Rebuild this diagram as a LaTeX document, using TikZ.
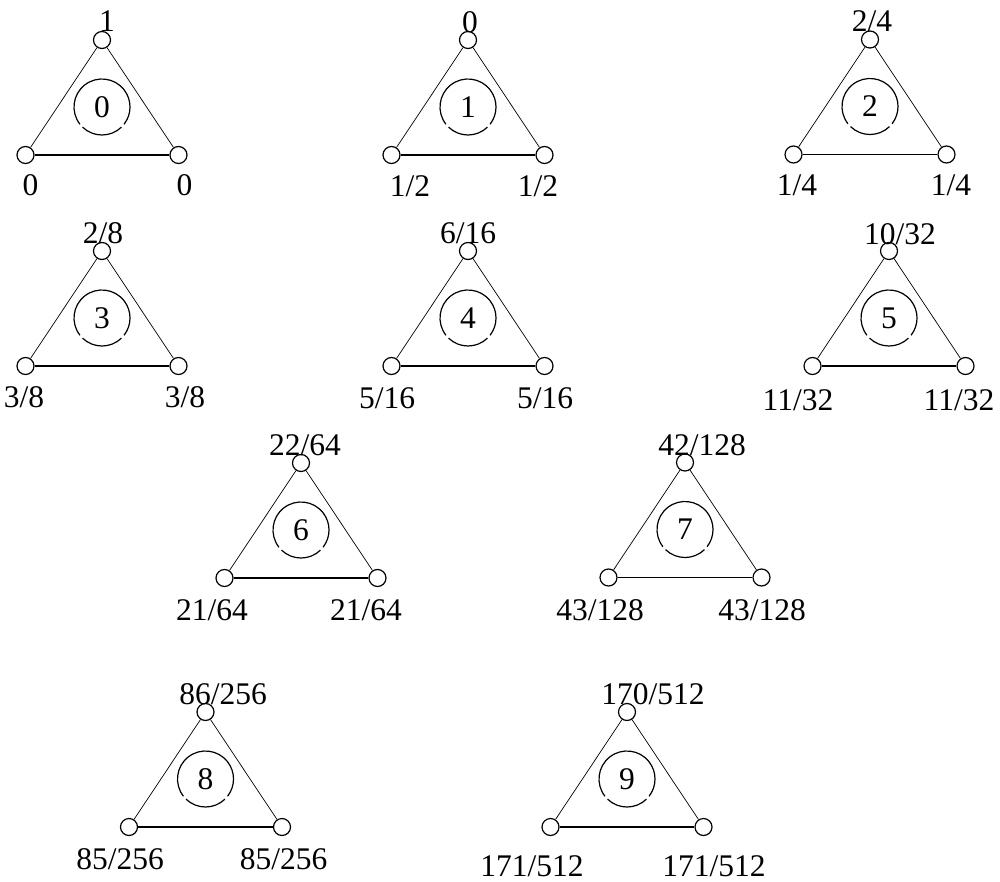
\documentclass[tikz,border=0pt]{standalone}
\usepackage{fontspec}
\setmainfont{Liberation Serif}
\begin{document}
\begin{tikzpicture}[x=1pt,y=-1pt,
  vtx/.style={circle,draw,line width=1.2pt,minimum size=17pt,inner sep=0pt,fill=white},
  side/.style={line width=0.7pt},
  base/.style={line width=1.4pt},
  ring/.style={line width=1.2pt},
  lbl/.style={anchor=base,inner sep=0pt,font=\fontsize{31.5}{36}\selectfont},
  num/.style={anchor=center,inner sep=0pt,font=\fontsize{31.5}{36}\selectfont}]
\useasboundingbox (0,0) rectangle (1000,882);
\foreach \cx/\ty/\n in {102/40/0,468/40/1,870/39.5/2,102/251/3,468/251/4,889/251/5,301/463/6,685/462.5/7,205.5/712/8,627/712/9}{
  \node[vtx] (t\n) at (\cx,\ty) {};
  \node[vtx] (l\n) at (\cx-76.5,\ty+115) {};
  \node[vtx] (r\n) at (\cx+76.5,\ty+115) {};
  \draw[side] (t\n) -- (l\n);
  \draw[side] (t\n) -- (r\n);
  \draw[base] (l\n) -- (r\n);
  \coordinate (c\n) at (\cx,\ty+67);
  \draw[ring] ([shift={(142:28)}]c\n) arc[start angle=142,end angle=398,radius=28];
  \draw[ring] ([shift={(46:28)}]c\n) arc[start angle=46,end angle=134,radius=28];
  \node[num] (n\n) at (c\n) {\n};
}
% labels: top, bottom-left, bottom-right
\node[lbl] (a0) at (107,32) {1};
\node[lbl] (b0) at (30.5,196) {0};
\node[lbl] (d0) at (184.5,196) {0};
\node[lbl] (a1) at (470,33) {0};
\node[lbl] (b1) at (410,197) {1/2};
\node[lbl] (d1) at (538,197) {1/2};
\node[lbl] (a2) at (872,32) {2/4};
\node[lbl] (b2) at (797,196) {1/4};
\node[lbl] (d2) at (951,196) {1/4};
\node[lbl] (a3) at (103,244) {2/8};
\node[lbl] (b3) at (24,407) {3/8};
\node[lbl] (d3) at (185,407) {3/8};
\node[lbl] (a4) at (468,244) {6/16};
\node[lbl] (b4) at (387,408) {5/16};
\node[lbl] (d4) at (545,408) {5/16};
\node[lbl] (a5) at (900,245) {10/32};
\node[lbl] (b5) at (798,410) {11/32};
\node[lbl] (d5) at (959,410) {11/32};
\node[lbl] (a6) at (305,455) {22/64};
\node[lbl] (b6) at (212,620) {21/64};
\node[lbl] (d6) at (366,620) {21/64};
\node[lbl] (a7) at (702,455) {42/128};
\node[lbl] (b7) at (600,620) {43/128};
\node[lbl] (d7) at (762,620) {43/128};
\node[lbl] (a8) at (223,704) {86/256};
\node[lbl] (b8) at (120,869) {85/256};
\node[lbl] (d8) at (283.5,869) {85/256};
\node[lbl] (a9) at (653,704) {170/512};
\node[lbl] (b9) at (532,876) {171/512};
\node[lbl] (d9) at (714,876) {171/512};
\end{tikzpicture}
\end{document}
